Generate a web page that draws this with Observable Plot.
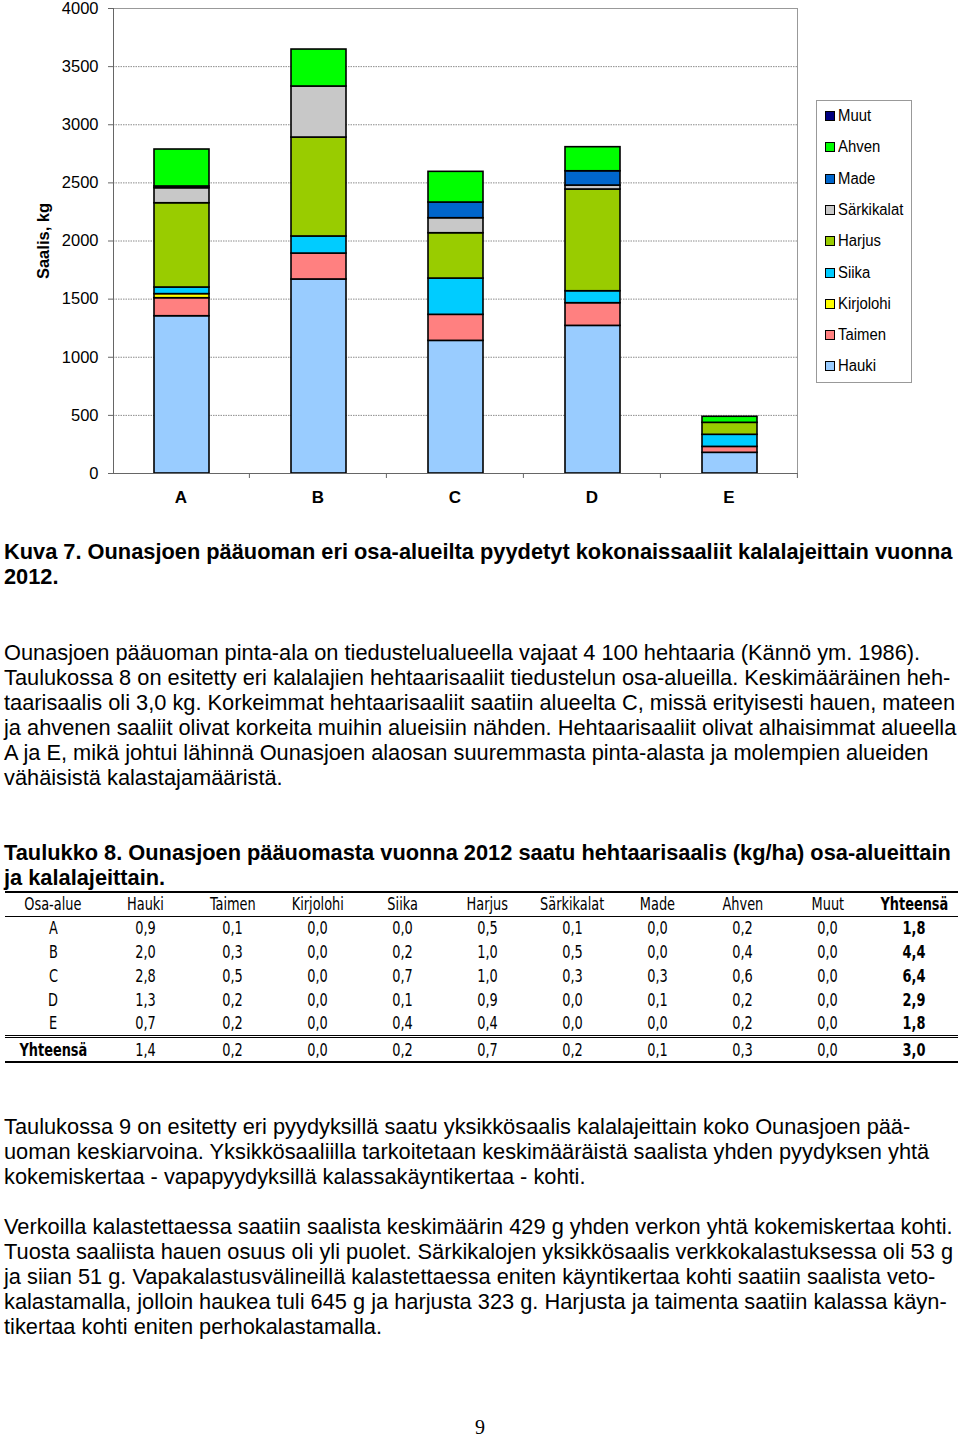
<!DOCTYPE html>
<html>
<head>
<meta charset="utf-8">
<script src="https://cdn.jsdelivr.net/npm/d3@7"></script>
<script src="https://cdn.jsdelivr.net/npm/@observablehq/plot@0.6"></script>
<style>
  html, body { margin: 0; padding: 0; background: #fff; }
  body { width: 960px; height: 1440px; position: relative; overflow: hidden; font-family: "Liberation Sans", Arial, sans-serif; color: #000; }
  #chart { position: absolute; left: 0; top: 0; }
  g[aria-label="y-axis label"] text { font-weight: bold; }
  .legend { position: absolute; left: 816px; top: 100px; width: 96px; height: 283px; border: 1px solid #999; background: #fff; box-sizing: border-box; }
  .legend .item { position: absolute; left: 8px; font-size: 16px; line-height: 18px; white-space: nowrap; }
  .legend .lbl { display: inline-block; transform: scaleX(0.93); transform-origin: left center; }
  .legend .sw { display: inline-block; width: 8px; height: 8px; border: 1px solid #000; margin-right: 3px; vertical-align: 0px; }
  .line { position: absolute; left: 4px; white-space: nowrap; font-size: 21.8px; line-height: 25px; }
  .bold { font-weight: bold; }
  table.t { position: absolute; left: 5px; top: 891px; border-collapse: collapse; table-layout: fixed; width: 953px; font-family: "Liberation Sans Narrow", "DejaVu Sans Condensed", sans-serif; font-size: 17.5px; }
  table.t td { text-align: center; padding: 0; height: 23.75px; line-height: 20px; white-space: nowrap; }
  table.t td span { display: inline-block; transform: scaleX(0.82); transform-origin: center center; }
  table.t tr.head td { height: 22.5px; border-top: 2.5px solid #000; border-bottom: 1px solid #000; }
  table.t tr.r1 td { padding-top: 1px; }
  table.t tr.tot td { border-top: 3px double #000; border-bottom: 2.5px solid #000; height: 23px; }
  .pn { position: absolute; left: 0; width: 960px; top: 1416px; text-align: center; font-family: "Liberation Serif", serif; font-size: 20px; }
</style>
</head>
<body>
<div id="chart"></div>
<div class="legend" id="legend"></div>
<div id="texts"></div>
<table class="t" id="tbl"></table>
<div class="pn">9</div>
<script>
// ---- Chart data (kg) ----
const areas = ["A", "B", "C", "D", "E"];
const species = ["Hauki", "Taimen", "Kirjolohi", "Siika", "Harjus", "Särkikalat", "Made", "Ahven", "Muut"];
const colors = ["#99ccff", "#ff8080", "#ffff00", "#00ccff", "#99cc00", "#c8c8c8", "#0066cc", "#00ff00", "#000080"];
const hauki      = [1353, 1669, 1141, 1270, 178];
const taimen     = [155, 223, 224, 195, 51];
const kirjolohi  = [35, 0, 0, 0, 0];
const siika      = [57, 147, 312, 103, 104];
const harjus     = [725, 851, 390, 875, 103];
const sarkikalat = [129, 439, 129, 34, 0];
const made       = [15, 0, 135, 123, 0];
const ahven      = [318, 318, 264, 207, 52];
const muut       = [0, 0, 0, 0, 0];
const yTicks = [0, 500, 1000, 1500, 2000, 2500, 3000, 3500, 4000];

const seriesValues = [hauki, taimen, kirjolohi, siika, harjus, sarkikalat, made, ahven, muut];
const rows = [];
species.forEach((s, i) => areas.forEach((a, j) => {
  if (seriesValues[i][j] > 0) rows.push({area: a, species: s, kg: seriesValues[i][j]});
}));

const chart = Plot.plot({
  width: 960,
  height: 515,
  marginLeft: 113,
  marginRight: 163,
  marginTop: 8,
  marginBottom: 42,
  style: {fontFamily: "Liberation Sans, Arial, sans-serif", fontSize: "16px", background: "white", color: "#000"},
  x: {domain: areas, paddingInner: 0.595, paddingOuter: 0.29, label: null},
  y: {domain: [0, 4000], label: "Saalis, kg"},
  color: {domain: species, range: colors},
  marks: [
    Plot.gridY(yTicks.slice(1, -1), {stroke: "#8c8c8c", strokeOpacity: 1, strokeDasharray: "1.5,1"}),
    Plot.frame({stroke: "#999"}),
    Plot.barY(rows, Plot.stackY({x: "area", y: "kg", fill: "species", order: species, stroke: "#000", strokeWidth: 1.6, dx: 1})),
    Plot.frame({anchor: "left", stroke: "#666"}),
    Plot.ruleY([0], {stroke: "#666"}),
    Plot.axisY({ticks: yTicks, tickFormat: d => String(d), tickSize: 5, tickPadding: 10, stroke: "#666", label: "Saalis, kg", labelAnchor: "center", labelArrow: "none", labelOffset: 76, fontSize: 16.5}),
    Plot.axisX({tickSize: 0, tickPadding: 17, fontWeight: "bold", fontSize: 17, label: null}),
    Plot.axisX({tickSize: 5, tickFormat: () => "", dx: 68.4, stroke: "#666", label: null})
  ]
});
document.getElementById("chart").appendChild(chart);

// ---- Legend ----
const legend = document.getElementById("legend");
const legendOrder = species.slice().reverse();
legendOrder.forEach((s, i) => {
  const d = document.createElement("div");
  d.className = "item";
  d.style.top = (6 + i * 31.3) + "px";
  const sw = document.createElement("span");
  sw.className = "sw";
  sw.style.background = colors[species.indexOf(s)];
  d.appendChild(sw);
  const lb = document.createElement("span");
  lb.className = "lbl";
  lb.textContent = s;
  d.appendChild(lb);
  legend.appendChild(d);
});

// ---- Body text ----
const textLines = [
  {top: 539, bold: true, t: "Kuva 7. Ounasjoen pääuoman eri osa-alueilta pyydetyt kokonaissaaliit kalalajeittain vuonna"},
  {top: 564, bold: true, t: "2012."},
  {top: 640, t: "Ounasjoen pääuoman pinta-ala on tiedustelualueella vajaat 4 100 hehtaaria (Kännö ym. 1986)."},
  {top: 665, t: "Taulukossa 8 on esitetty eri kalalajien hehtaarisaaliit tiedustelun osa-alueilla. Keskimääräinen heh-"},
  {top: 690, t: "taarisaalis oli 3,0 kg. Korkeimmat hehtaarisaaliit saatiin alueelta C, missä erityisesti hauen, mateen"},
  {top: 715, t: "ja ahvenen saaliit olivat korkeita muihin alueisiin nähden. Hehtaarisaaliit olivat alhaisimmat alueella"},
  {top: 740, t: "A ja E, mikä johtui lähinnä Ounasjoen alaosan suuremmasta pinta-alasta ja molempien alueiden"},
  {top: 765, t: "vähäisistä kalastajamääristä."},
  {top: 840, bold: true, t: "Taulukko 8. Ounasjoen pääuomasta vuonna 2012 saatu hehtaarisaalis (kg/ha) osa-alueittain"},
  {top: 865, bold: true, t: "ja kalalajeittain."},
  {top: 1114, t: "Taulukossa 9 on esitetty eri pyydyksillä saatu yksikkösaalis kalalajeittain koko Ounasjoen pää-"},
  {top: 1139, t: "uoman keskiarvoina. Yksikkösaaliilla tarkoitetaan keskimääräistä saalista yhden pyydyksen yhtä"},
  {top: 1164, t: "kokemiskertaa - vapapyydyksillä kalassakäyntikertaa - kohti."},
  {top: 1214, t: "Verkoilla kalastettaessa saatiin saalista keskimäärin 429 g yhden verkon yhtä kokemiskertaa kohti."},
  {top: 1239, t: "Tuosta saaliista hauen osuus oli yli puolet. Särkikalojen yksikkösaalis verkkokalastuksessa oli 53 g"},
  {top: 1264, t: "ja siian 51 g. Vapakalastusvälineillä kalastettaessa eniten käyntikertaa kohti saatiin saalista veto-"},
  {top: 1289, t: "kalastamalla, jolloin haukea tuli 645 g ja harjusta 323 g. Harjusta ja taimenta saatiin kalassa käyn-"},
  {top: 1314, t: "tikertaa kohti eniten perhokalastamalla."}
];
const texts = document.getElementById("texts");
textLines.forEach(l => {
  const d = document.createElement("div");
  d.className = "line" + (l.bold ? " bold" : "");
  d.style.top = l.top + "px";
  d.textContent = l.t;
  texts.appendChild(d);
});

// ---- Table 8 (kg/ha) ----
const tableHeader = ["Osa-alue", "Hauki", "Taimen", "Kirjolohi", "Siika", "Harjus", "Särkikalat", "Made", "Ahven", "Muut", "Yhteensä"];
const tableRows = [
  ["A", "0,9", "0,1", "0,0", "0,0", "0,5", "0,1", "0,0", "0,2", "0,0", "1,8"],
  ["B", "2,0", "0,3", "0,0", "0,2", "1,0", "0,5", "0,0", "0,4", "0,0", "4,4"],
  ["C", "2,8", "0,5", "0,0", "0,7", "1,0", "0,3", "0,3", "0,6", "0,0", "6,4"],
  ["D", "1,3", "0,2", "0,0", "0,1", "0,9", "0,0", "0,1", "0,2", "0,0", "2,9"],
  ["E", "0,7", "0,2", "0,0", "0,4", "0,4", "0,0", "0,0", "0,2", "0,0", "1,8"]
];
const tableTotal = ["Yhteensä", "1,4", "0,2", "0,0", "0,2", "0,7", "0,2", "0,1", "0,3", "0,0", "3,0"];
const colWidths = [96, 89, 85, 85, 85, 85, 85, 85, 85, 85, 88];
const tbl = document.getElementById("tbl");
const cg = document.createElement("colgroup");
colWidths.forEach(w => { const c = document.createElement("col"); c.style.width = w + "px"; cg.appendChild(c); });
tbl.appendChild(cg);
function addRow(cells, cls) {
  const tr = document.createElement("tr");
  if (cls) tr.className = cls;
  cells.forEach((c, i) => {
    const td = document.createElement("td");
    const sp = document.createElement("span");
    sp.textContent = c;
    td.appendChild(sp);
    if (i === cells.length - 1 || (cls === "tot" && i === 0)) td.style.fontWeight = "bold";
    tr.appendChild(td);
  });
  tbl.appendChild(tr);
}
addRow(tableHeader, "head");
tableRows.forEach(r => addRow(r));
addRow(tableTotal, "tot");
</script>
</body>
</html>
